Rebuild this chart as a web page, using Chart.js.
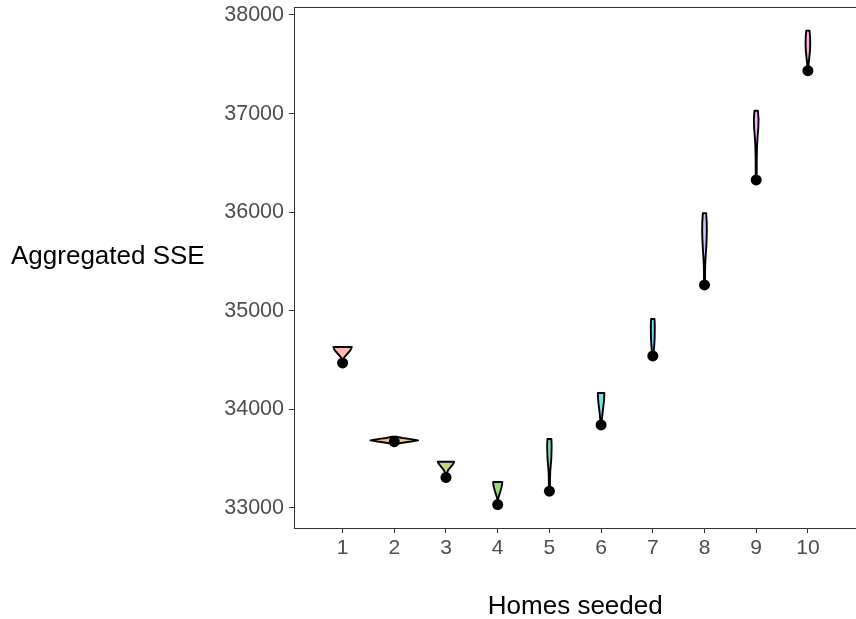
<!DOCTYPE html>
<html>
<head>
<meta charset="utf-8">
<script src="https://cdn.jsdelivr.net/npm/chart.js@4/dist/chart.umd.min.js"></script>
<style>
html,body{margin:0;padding:0;background:#ffffff;overflow:hidden;}
#wrap{width:856px;height:619px;overflow:hidden;}
</style>
</head>
<body>
<div id="wrap"><canvas id="c" width="862" height="619"></canvas></div>
<script>
// ---- data ----
const categories = ['1','2','3','4','5','6','7','8','9','10'];
const yTicks = [33000, 34000, 35000, 36000, 37000, 38000];
// highlighted SSE (black dot) per number of seeded homes
const dotSSE = [34471, 33672, 33310, 33035, 33170, 33842, 34542, 35262, 36327, 37435];
// range of the SSE distribution (violin extent)
const violinLow  = [34480, 33650, 33320, 33080, 33170, 33842, 34542, 35262, 36327, 37435];
const violinHigh = [34633, 33722, 33469, 33264, 33700, 34166, 34917, 35990, 37029, 37841];
// maximum violin width (in category units)
const violinWidth = [0.355, 0.92, 0.32, 0.18, 0.086, 0.125, 0.075, 0.09, 0.09, 0.09];
// relative density from low to high
const density1  = [0.10, 0.12, 0.20, 0.45, 0.70, 0.90, 1.00];
const density2  = [0.08, 0.35, 0.70, 1.00, 0.70, 0.35, 0.08];
const density3  = [0.10, 0.12, 0.18, 0.35, 0.60, 0.85, 1.00];
const density4  = [0.02, 0.20, 0.40, 0.60, 0.78, 0.92, 1.00];
const density5  = [0.22, 0.24, 0.27, 0.37, 0.60, 0.85, 0.95, 1.00, 0.90];
const density6  = [0.22, 0.27, 0.40, 0.60, 0.80, 0.95, 1.00];
const density7  = [0.28, 0.55, 0.80, 0.95, 1.00, 1.00, 0.90];
const density8  = [0.22, 0.22, 0.27, 0.45, 0.70, 0.90, 1.00, 0.95, 0.70];
const density9  = [0.22, 0.22, 0.22, 0.27, 0.37, 0.60, 0.90, 1.00, 0.75];
const density10 = [0.22, 0.30, 0.60, 0.90, 1.00, 0.95, 0.70];
const densities = [density1, density2, density3, density4, density5, density6, density7, density8, density9, density10];
const fillColors = ['#F8766D','#D89000','#A3A500','#39B600','#00BF7D','#00BFC4','#00B0F6','#9590FF','#E76BF3','#FF62BC'];

function hexA(h, a){
  const r=parseInt(h.slice(1,3),16), g=parseInt(h.slice(3,5),16), b=parseInt(h.slice(5,7),16);
  return 'rgba('+r+','+g+','+b+','+a+')';
}

const FONT = '"Liberation Sans", Arial, sans-serif';

const violinPlugin = {
  id: 'violins',
  beforeDatasetsDraw(chart){
    const ctx = chart.ctx, xs = chart.scales.x, ys = chart.scales.y;
    ctx.save();
    categories.forEach((c, i) => {
      const d = densities[i], n = d.length;
      const lo = violinLow[i], hi = violinHigh[i], w = violinWidth[i];
      const right = [], left = [];
      for (let k = 0; k < n; k++){
        const v = lo + (hi - lo) * k / (n - 1);
        const hw = d[k] * w / 2;
        right.push([xs.getPixelForValue(i + 1 + hw), ys.getPixelForValue(v)]);
        left.push([xs.getPixelForValue(i + 1 - hw), ys.getPixelForValue(v)]);
      }
      const pts = right.concat(left.reverse());
      ctx.beginPath();
      ctx.moveTo(pts[0][0], pts[0][1]);
      for (let k = 1; k < pts.length; k++) ctx.lineTo(pts[k][0], pts[k][1]);
      ctx.closePath();
      ctx.fillStyle = hexA(fillColors[i], 0.5);
      ctx.fill();
      ctx.lineJoin = 'round';
      ctx.lineWidth = 1.9;
      ctx.strokeStyle = '#000';
      ctx.stroke();
    });
    ctx.restore();
  }
};

const framePlugin = {
  id: 'frame',
  afterDraw(chart){
    const {ctx, chartArea: a} = chart;
    ctx.save();
    ctx.strokeStyle = '#333333';
    ctx.lineWidth = 1;
    ctx.strokeRect(Math.round(a.left) + 0.5, Math.round(a.top) + 0.5, Math.round(a.right - a.left) - 1, Math.round(a.bottom - a.top));
    // horizontal y-axis title
    ctx.fillStyle = '#000';
    ctx.font = '26px ' + FONT;
    ctx.textAlign = 'left';
    ctx.textBaseline = 'middle';
    ctx.fillText('Aggregated SSE', 11, 257);
    ctx.restore();
  }
};

new Chart(document.getElementById('c'), {
  type: 'scatter',
  data: {
    datasets: [{
      data: categories.map((c, i) => ({x: i + 1, y: dotSSE[i]})),
      pointRadius: 5.5,
      pointBackgroundColor: '#000',
      pointBorderWidth: 0,
      showLine: false
    }]
  },
  options: {
    responsive: false,
    animation: false,
    layout: {padding: {top: 7, right: 0, left: 0, bottom: 0}},
    plugins: {legend: {display: false}, tooltip: {enabled: false}},
    scales: {
      x: {
        type: 'linear', min: 0.06, max: 10.94,
        afterBuildTicks: s => { s.ticks = categories.map((c, i) => ({value: i + 1})); },
        afterFit: s => { s.height = 91; s.paddingLeft = 0; s.paddingRight = 0; },
        ticks: {
          autoSkip: false, maxRotation: 0, padding: 3, color: '#4d4d4d',
          font: {family: FONT, size: 21},
          callback: v => categories[Math.round(v) - 1]
        },
        grid: {drawOnChartArea: false, tickLength: 5, color: '#333333'},
        border: {display: false},
        title: {display: true, text: 'Homes seeded', color: '#000', font: {family: FONT, size: 26, lineHeight: 1.0}, padding: {top: 0, bottom: -1}}
      },
      y: {
        min: 32797, max: 38081,
        afterBuildTicks: s => { s.ticks = yTicks.map(v => ({value: v})); },
        afterFit: s => { s.width = 294; s.paddingTop = 0; s.paddingBottom = 0; },
        ticks: {padding: 5, color: '#4d4d4d', font: {family: FONT, size: 21.5}, callback: v => String(v)},
        grid: {drawOnChartArea: false, tickLength: 5, color: '#333333'},
        border: {display: false}
      }
    }
  },
  plugins: [violinPlugin, framePlugin]
});
</script>
</body>
</html>
